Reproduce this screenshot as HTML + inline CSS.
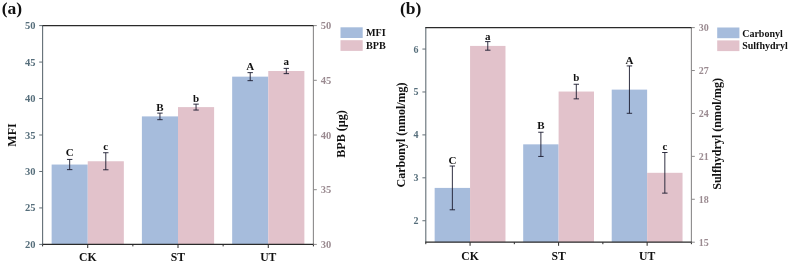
<!DOCTYPE html>
<html><head><meta charset="utf-8"><title>chart</title>
<style>
html,body{margin:0;padding:0;background:#fff;}
svg{display:block;}
svg text{font-family:"Liberation Serif",serif;font-weight:bold;}
</style></head><body>
<svg width="789" height="263" viewBox="0 0 789 263">
<rect x="0" y="0" width="789" height="263" fill="#ffffff"/>
<g opacity="0.999">
<rect x="51.63" y="164.54" width="36.11" height="79.86" fill="#a6bcdc"/>
<rect x="87.73" y="161.26" width="36.11" height="83.14" fill="#e2c2cb"/>
<path d="M69.68 159.43V169.64M66.98 159.43H72.38M66.98 169.64H72.38" stroke="#1a1a2e" stroke-width="0.9" fill="none"/>
<text x="69.68" y="156.40" font-size="11" text-anchor="middle" fill="#111">C</text>
<path d="M105.79 152.72V169.79M103.09 152.72H108.49M103.09 169.79H108.49" stroke="#1a1a2e" stroke-width="0.9" fill="none"/>
<text x="105.79" y="150.00" font-size="11" text-anchor="middle" fill="#111">c</text>
<rect x="141.89" y="116.40" width="36.11" height="128.00" fill="#a6bcdc"/>
<rect x="178.00" y="107.10" width="36.11" height="137.30" fill="#e2c2cb"/>
<path d="M159.95 113.12V119.68M157.25 113.12H162.65M157.25 119.68H162.65" stroke="#1a1a2e" stroke-width="0.9" fill="none"/>
<text x="159.95" y="111.20" font-size="11" text-anchor="middle" fill="#111">B</text>
<path d="M196.05 104.15V110.06M193.35 104.15H198.75M193.35 110.06H198.75" stroke="#1a1a2e" stroke-width="0.9" fill="none"/>
<text x="196.05" y="101.60" font-size="11" text-anchor="middle" fill="#111">b</text>
<rect x="232.16" y="76.65" width="36.11" height="167.75" fill="#a6bcdc"/>
<rect x="268.27" y="71.00" width="36.11" height="173.40" fill="#e2c2cb"/>
<path d="M250.21 72.64V80.66M247.51 72.64H252.91M247.51 80.66H252.91" stroke="#1a1a2e" stroke-width="0.9" fill="none"/>
<text x="250.21" y="70.20" font-size="11" text-anchor="middle" fill="#111">A</text>
<path d="M286.32 68.38V73.63M283.62 68.38H289.02M283.62 73.63H289.02" stroke="#1a1a2e" stroke-width="0.9" fill="none"/>
<text x="286.32" y="65.00" font-size="11" text-anchor="middle" fill="#111">a</text>
<path d="M42.6 25.6V244.4" stroke="#626e75" stroke-width="1.1" fill="none"/>
<path d="M313.4 25.6V244.4" stroke="#8c8a8b" stroke-width="1.1" fill="none"/>
<path d="M42.1 25.6H313.9M42.1 244.4H313.9" stroke="#2a2a2a" stroke-width="1.2" fill="none"/>
<path d="M87.73 244.4V248.0M178.00 244.4V248.0M268.27 244.4V248.0M42.60 244.4V246.4M132.87 244.4V246.4M223.13 244.4V246.4M313.40 244.4V246.4" stroke="#2a2a2a" stroke-width="1" fill="none"/>
<text x="87.73" y="261.30" font-size="11.7" text-anchor="middle" fill="#111">CK</text>
<text x="178.00" y="261.30" font-size="11.7" text-anchor="middle" fill="#111">ST</text>
<text x="268.27" y="261.30" font-size="11.7" text-anchor="middle" fill="#111">UT</text>
<text x="35.40" y="247.90" font-size="10.5" text-anchor="end" fill="#566e7b">20</text>
<text x="35.40" y="211.43" font-size="10.5" text-anchor="end" fill="#566e7b">25</text>
<text x="35.40" y="174.97" font-size="10.5" text-anchor="end" fill="#566e7b">30</text>
<text x="35.40" y="138.50" font-size="10.5" text-anchor="end" fill="#566e7b">35</text>
<text x="35.40" y="102.03" font-size="10.5" text-anchor="end" fill="#566e7b">40</text>
<text x="35.40" y="65.57" font-size="10.5" text-anchor="end" fill="#566e7b">45</text>
<text x="35.40" y="29.10" font-size="10.5" text-anchor="end" fill="#566e7b">50</text>
<path d="M39.20 244.40H42.6M39.20 207.93H42.6M39.20 171.47H42.6M39.20 135.00H42.6M39.20 98.53H42.6M39.20 62.07H42.6M39.20 25.60H42.6" stroke="#626e75" stroke-width="1" fill="none"/>
<text x="320.70" y="247.90" font-size="10.5" text-anchor="start" fill="#9a8a90">30</text>
<text x="320.70" y="193.20" font-size="10.5" text-anchor="start" fill="#9a8a90">35</text>
<text x="320.70" y="138.50" font-size="10.5" text-anchor="start" fill="#9a8a90">40</text>
<text x="320.70" y="83.80" font-size="10.5" text-anchor="start" fill="#9a8a90">45</text>
<text x="320.70" y="29.10" font-size="10.5" text-anchor="start" fill="#9a8a90">50</text>
<path d="M313.4 244.40H316.80M313.4 189.70H316.80M313.4 135.00H316.80M313.4 80.30H316.80M313.4 25.60H316.80" stroke="#8c8a8b" stroke-width="1" fill="none"/>
<text transform="translate(16 135.00) rotate(-90)" font-size="12" text-anchor="middle" fill="#111">MFI</text>
<text transform="translate(345 134.00) rotate(-90)" font-size="12.1" text-anchor="middle" fill="#111">BPB (μg)</text>
<rect x="434.65" y="187.91" width="35.41" height="54.29" fill="#a6bcdc"/>
<rect x="470.07" y="45.91" width="35.41" height="196.29" fill="#e2c2cb"/>
<path d="M452.36 166.02V209.80M449.66 166.02H455.06M449.66 209.80H455.06" stroke="#1a1a2e" stroke-width="0.9" fill="none"/>
<text x="452.36" y="163.50" font-size="11" text-anchor="middle" fill="#111">C</text>
<path d="M487.77 41.62V50.20M485.07 41.62H490.47M485.07 50.20H490.47" stroke="#1a1a2e" stroke-width="0.9" fill="none"/>
<text x="487.77" y="39.60" font-size="11" text-anchor="middle" fill="#111">a</text>
<rect x="523.19" y="144.34" width="35.41" height="97.86" fill="#a6bcdc"/>
<rect x="558.60" y="91.55" width="35.41" height="150.65" fill="#e2c2cb"/>
<path d="M540.89 132.24V156.45M538.19 132.24H543.59M538.19 156.45H543.59" stroke="#1a1a2e" stroke-width="0.9" fill="none"/>
<text x="540.89" y="129.00" font-size="11" text-anchor="middle" fill="#111">B</text>
<path d="M576.31 84.25V98.85M573.61 84.25H579.01M573.61 98.85H579.01" stroke="#1a1a2e" stroke-width="0.9" fill="none"/>
<text x="576.31" y="80.90" font-size="11" text-anchor="middle" fill="#111">b</text>
<rect x="611.72" y="89.62" width="35.41" height="152.58" fill="#a6bcdc"/>
<rect x="647.13" y="172.81" width="35.41" height="69.39" fill="#e2c2cb"/>
<path d="M629.43 65.93V113.31M626.73 65.93H632.13M626.73 113.31H632.13" stroke="#1a1a2e" stroke-width="0.9" fill="none"/>
<text x="629.43" y="63.50" font-size="11" text-anchor="middle" fill="#111">A</text>
<path d="M664.84 152.50V193.13M662.14 152.50H667.54M662.14 193.13H667.54" stroke="#1a1a2e" stroke-width="0.9" fill="none"/>
<text x="664.84" y="150.00" font-size="11" text-anchor="middle" fill="#111">c</text>
<path d="M425.8 27.6V242.2" stroke="#626e75" stroke-width="1.1" fill="none"/>
<path d="M691.4 27.6V242.2" stroke="#8c8a8b" stroke-width="1.1" fill="none"/>
<path d="M425.3 27.6H691.9M425.3 242.2H691.9" stroke="#2a2a2a" stroke-width="1.2" fill="none"/>
<path d="M470.07 242.2V245.79999999999998M558.60 242.2V245.79999999999998M647.13 242.2V245.79999999999998M425.80 242.2V244.2M514.33 242.2V244.2M602.87 242.2V244.2M691.40 242.2V244.2" stroke="#2a2a2a" stroke-width="1" fill="none"/>
<text x="470.07" y="259.50" font-size="11.7" text-anchor="middle" fill="#111">CK</text>
<text x="558.60" y="259.50" font-size="11.7" text-anchor="middle" fill="#111">ST</text>
<text x="647.13" y="259.50" font-size="11.7" text-anchor="middle" fill="#111">UT</text>
<text x="418.60" y="224.24" font-size="10" text-anchor="end" fill="#566e7b">2</text>
<text x="418.60" y="181.32" font-size="10" text-anchor="end" fill="#566e7b">3</text>
<text x="418.60" y="138.40" font-size="10" text-anchor="end" fill="#566e7b">4</text>
<text x="418.60" y="95.48" font-size="10" text-anchor="end" fill="#566e7b">5</text>
<text x="418.60" y="52.56" font-size="10" text-anchor="end" fill="#566e7b">6</text>
<path d="M422.40 220.74H425.8M422.40 177.82H425.8M422.40 134.90H425.8M422.40 91.98H425.8M422.40 49.06H425.8" stroke="#626e75" stroke-width="1" fill="none"/>
<text x="698.70" y="245.70" font-size="10" text-anchor="start" fill="#9a8a90">15</text>
<text x="698.70" y="202.78" font-size="10" text-anchor="start" fill="#9a8a90">18</text>
<text x="698.70" y="159.86" font-size="10" text-anchor="start" fill="#9a8a90">21</text>
<text x="698.70" y="116.94" font-size="10" text-anchor="start" fill="#9a8a90">24</text>
<text x="698.70" y="74.02" font-size="10" text-anchor="start" fill="#9a8a90">27</text>
<text x="698.70" y="31.10" font-size="10" text-anchor="start" fill="#9a8a90">30</text>
<path d="M691.4 242.20H694.80M691.4 199.28H694.80M691.4 156.36H694.80M691.4 113.44H694.80M691.4 70.52H694.80M691.4 27.60H694.80" stroke="#8c8a8b" stroke-width="1" fill="none"/>
<text transform="translate(404.8 134.90) rotate(-90)" font-size="12" text-anchor="middle" fill="#111">Carbonyl (nmol/mg)</text>
<text transform="translate(721.3 133.90) rotate(-90)" font-size="12.1" text-anchor="middle" fill="#111">Sulfhydryl (nmol/mg)</text>
<text x="1.8" y="13.6" font-size="17.5" fill="#111">(a)</text>
<text x="400" y="13.6" font-size="17.5" fill="#111">(b)</text>
<rect x="340.5" y="27.3" width="22.2" height="10.7" fill="#a6bcdc"/>
<rect x="340.5" y="40.2" width="22.2" height="10.7" fill="#e2c2cb"/>
<text x="366" y="36.2" font-size="10.2" fill="#111">MFI</text>
<text x="366" y="49.0" font-size="10.2" fill="#111">BPB</text>
<rect x="717.2" y="27.5" width="22.2" height="10.7" fill="#a6bcdc"/>
<rect x="717.2" y="40.4" width="22.2" height="10.7" fill="#e2c2cb"/>
<text x="742.2" y="36.6" font-size="10.0" fill="#111">Carbonyl</text>
<text x="742.2" y="49.1" font-size="10.0" fill="#111">Sulfhydryl</text>
</g>
</svg>
</body></html>
